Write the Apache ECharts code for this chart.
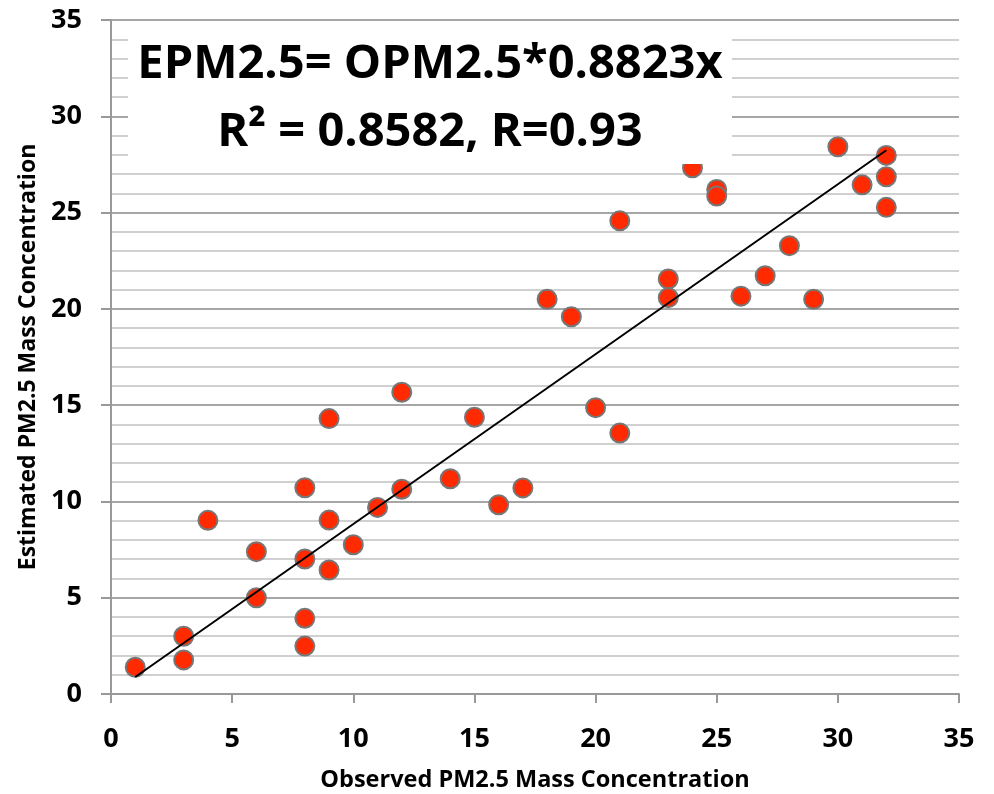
<!DOCTYPE html>
<html>
<head>
<meta charset="utf-8">
<script src="https://cdn.jsdelivr.net/npm/echarts@6/dist/echarts.min.js"></script>
<style>
  html, body { margin: 0; padding: 0; background: #fff; }
  #chart { width: 994px; height: 794px; }
</style>
</head>
<body>
<div id="chart"></div>
<script>
// observed (x) vs estimated (y) PM2.5
const observed = [1, 3, 3, 4, 6, 6, 8, 8, 8, 8, 9, 9, 9, 10, 11, 12, 12, 14, 15, 16,
  17, 18, 19, 20, 21, 21, 23, 23, 24, 25, 25, 26, 27, 28, 29, 30, 31, 32, 32, 32]
const estimated = [1.39, 3.0, 1.77, 9.02, 7.39, 5.0, 10.71, 7.01, 3.93, 2.49, 14.3, 9.03, 6.44, 7.75, 9.69, 10.63, 15.67, 11.18, 14.37, 9.83,
  10.7, 20.5, 19.59, 14.87, 24.57, 13.55, 21.55, 20.58, 27.33, 26.2, 25.86, 20.66, 21.72, 23.28, 20.5, 28.42, 26.44, 27.97, 26.86, 25.27]

// trend line EPM2.5 = OPM2.5 * 0.8823
const slope = 0.8823
const trendX = [1, 32]

const tickLabelsY = ['0', '5', '10', '15', '20', '25', '30', '35']
const equationText = 'EPM2.5= OPM2.5*0.8823x'
const rText = 'R\u00B2 = 0.8582, R=0.93'

const chart = echarts.init(document.getElementById('chart'))

chart.setOption({
  animation: false,
  grid: { left: 111, right: 35, top: 20, bottom: 100, containLabel: false, outerBoundsMode: 'none' },
  xAxis: {
    type: 'value',
    min: 0,
    max: 35,
    interval: 5,
    name: 'Observed PM2.5 Mass Concentration',
    nameLocation: 'middle',
    nameGap: 74,
    nameTextStyle: { fontFamily: 'Open Sans', fontWeight: 'bold', fontSize: 23.5, color: '#000' },
    axisLine: { lineStyle: { color: '#999', width: 2 } },
    axisTick: { length: 9, lineStyle: { color: '#999', width: 2 } },
    axisLabel: { margin: 32, fontFamily: 'Open Sans', fontWeight: 'bold', fontSize: 27, color: '#000' },
    splitLine: { show: false }
  },
  yAxis: {
    type: 'value',
    min: 0,
    max: 35,
    interval: 5,
    name: 'Estimated PM2.5 Mass Concentration',
    nameLocation: 'middle',
    nameGap: 70,
    nameTextStyle: { fontFamily: 'Open Sans', fontWeight: 'bold', fontSize: 23, color: '#000' },
    axisLine: { show: true, lineStyle: { color: '#999', width: 2 } },
    axisTick: { show: true, length: 10, lineStyle: { color: '#999', width: 2 } },
    axisLabel: {
      margin: 29,
      fontFamily: 'Open Sans',
      fontWeight: 'bold',
      fontSize: 27,
      color: '#000',
      formatter: (v) => tickLabelsY[Math.round(v / 5)]
    },
    splitLine: { show: true, lineStyle: { color: '#a6a6a6', width: 2 } },
    minorSplitLine: { show: true, lineStyle: { color: '#d0d0d0', width: 2 } },
    minorTick: { show: false, splitNumber: 5 }
  },
  series: [
    {
      type: 'scatter',
      data: observed.map((x, i) => [x, estimated[i]]),
      symbolSize: 19,
      itemStyle: { color: '#ff2a00', borderColor: '#777', borderWidth: 2, opacity: 1 },
      z: 3
    },
    {
      type: 'line',
      data: trendX.map(x => [x, x * slope]),
      symbol: 'none',
      lineStyle: { color: '#000', width: 2 },
      z: 4
    }
  ],
  graphic: [
    {
      type: 'rect',
      left: 128,
      top: 22,
      shape: { width: 604, height: 142 },
      style: { fill: '#fff' },
      z: 100
    },
    {
      type: 'text',
      x: 430,
      y: 65,
      style: {
        text: equationText,
        fontFamily: 'Open Sans',
        fontWeight: 'bold',
        fontSize: 47,
        fill: '#000',
        align: 'center',
        verticalAlign: 'middle'
      },
      z: 101
    },
    {
      type: 'text',
      x: 430,
      y: 133,
      style: {
        text: rText,
        fontFamily: 'Open Sans',
        fontWeight: 'bold',
        fontSize: 47,
        fill: '#000',
        align: 'center',
        verticalAlign: 'middle'
      },
      z: 101
    }
  ]
})
</script>
</body>
</html>
